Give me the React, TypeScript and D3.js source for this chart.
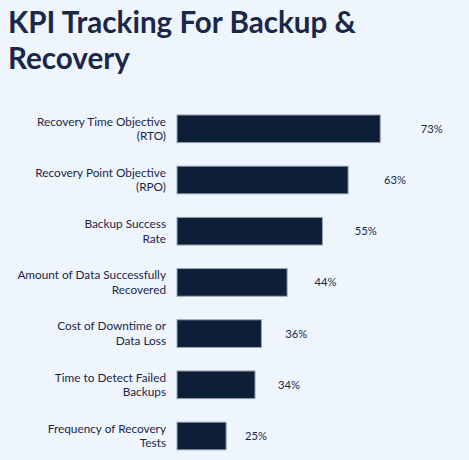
import { useEffect, useRef } from "react";
import * as d3 from "d3";

const categories = [
  ["Recovery Time Objective", "(RTO)"],
  ["Recovery Point Objective", "(RPO)"],
  ["Backup Success", "Rate"],
  ["Amount of Data Successfully", "Recovered"],
  ["Cost of Downtime or", "Data Loss"],
  ["Time to Detect Failed", "Backups"],
  ["Frequency of Recovery", "Tests"],
];
const values = [73, 63, 55, 44, 36, 34, 25];
const titleLines = ["KPI Tracking For Backup &", "Recovery"];

const width = 469;
const height = 460;

const App = () => {
  const svgRef = useRef<SVGSVGElement>(null);

  useEffect(() => {
    if (!svgRef.current) return;
    const svg = d3.select(svgRef.current);
    svg.selectAll("*").remove();

    const keys = categories.map((c) => c.join(" "));

    // scales
    const xScale = d3.scaleLinear().domain([9.7, 80]).range([177, 402.7]);
    const labelScale = d3.scaleLinear().domain([25, 73]).range([256, 431.7]);
    const yScale = d3
      .scaleBand<string>()
      .domain(keys)
      .range([103.2, 461.6])
      .paddingInner(0.46)
      .paddingOuter(0.23);

    svg
      .append("rect")
      .attr("width", width)
      .attr("height", height)
      .attr("fill", "#eef5fd");

    // title
    svg
      .append("g")
      .selectAll("text")
      .data(titleLines)
      .enter()
      .append("text")
      .attr("x", 8)
      .attr("y", (_d, i) => 33 + i * 36.3)
      .attr("font-family", "Lato, sans-serif")
      .attr("font-weight", 700)
      .attr("font-size", 29.6)
      .attr("fill", "#1b2748")
      .text((d) => d);

    // bars
    svg
      .append("g")
      .selectAll("rect")
      .data(values)
      .enter()
      .append("rect")
      .attr("x", xScale(xScale.domain()[0]))
      .attr("y", (_d, i) => yScale(keys[i])!)
      .attr("width", (d) => xScale(d) - xScale(xScale.domain()[0]))
      .attr("height", yScale.bandwidth())
      .attr("fill", "#0c1f37")
      .attr("stroke", "#97a3b0")
      .attr("stroke-width", 1);

    // category labels
    const cat = svg
      .append("g")
      .selectAll("text")
      .data(categories)
      .enter()
      .append("text")
      .attr("text-anchor", "end")
      .attr("font-family", "Lato, sans-serif")
      .attr("font-size", 11.8)
      .attr("fill", "#1b2748")
      .attr("transform", (_d, i) => `translate(166, ${yScale(keys[i])! + yScale.bandwidth() / 2})`);
    cat
      .selectAll("tspan")
      .data((d) => d)
      .enter()
      .append("tspan")
      .attr("x", 0)
      .attr("y", (_d, j) => -3.3 + j * 14.6)
      .text((d) => d);

    // value labels
    svg
      .append("g")
      .selectAll("text")
      .data(values)
      .enter()
      .append("text")
      .attr("x", (d) => labelScale(d))
      .attr("y", (_d, i) => yScale(keys[i])! + yScale.bandwidth() / 2 + 4)
      .attr("text-anchor", "middle")
      .attr("font-family", "Lato, sans-serif")
      .attr("font-size", 11.2)
      .attr("fill", "#1b2748")
      .text((d) => `${d}%`);
  }, []);

  return (
    <div style={{ position: "fixed", left: 0, top: 0 }}>
      <svg ref={svgRef} width={width} height={height} style={{ display: "block" }}></svg>
    </div>
  );
};

export default App;
